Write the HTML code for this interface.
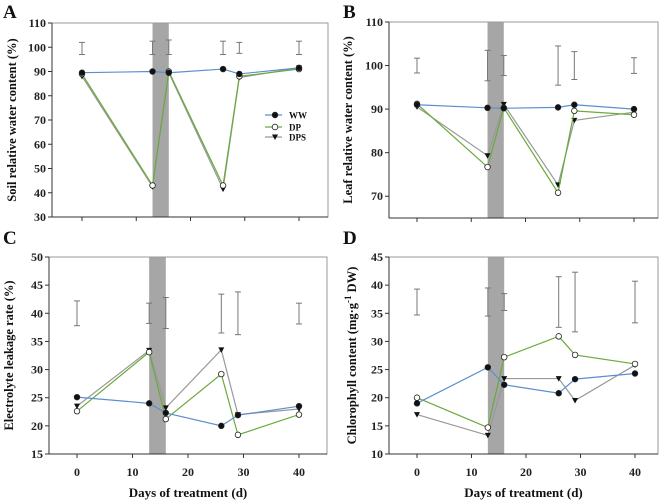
<!DOCTYPE html>
<html><head><meta charset="utf-8"><style>
body{margin:0;background:#fff}
svg{display:block;font-family:"Liberation Serif",serif;font-weight:bold}
</style></head><body>
<svg id="c" width="663" height="504"></svg>
<script>
const days=[0,13,16,26,29,40];
const aWW=[89.5,90,89.5,91,89,91.5], aDP=[89,43,90,43,88,91], aDPS=[88,42.5,89.5,41.5,87.5,91.5];
const aErrLo=[97,97,97,97,97.5,97], aErrHi=[102,102.5,103,102.5,102,102.5];
const bWW=[91,90.3,90.2,90.4,91,90], bDP=[91.2,76.7,90.3,70.8,89.6,88.7], bDPS=[90.5,79.3,91.1,72.6,87.4,89.3];
const bErrLo=[98.3,96.5,97.7,95.5,96.8,98.2], bErrHi=[101.7,103.5,102.3,104.5,103.2,101.8];
const cWW=[25.1,24,22.3,20,21.9,23.5], cDP=[22.6,33.1,21.2,29.2,18.4,22], cDPS=[23.5,33.4,23.2,33.5,22,23];
const cErrLo=[37.8,38.2,37.3,36.5,36.2,38.1], cErrHi=[42.2,41.8,42.8,43.4,43.8,41.8];
const dWW=[19,25.4,22.3,20.8,23.3,24.3], dDP=[20,14.7,27.2,30.9,27.6,26], dDPS=[17,13.3,23.4,23.4,19.5,25.8];
const dErrLo=[34.7,34.5,35.5,32.5,31.7,33.3], dErrHi=[39.3,39.5,38.5,41.5,42.3,40.7];
const aTicks=[30,40,50,60,70,80,90,100,110], bTicks=[70,80,90,100,110];
const cTicks=[15,20,25,30,35,40,45,50], dTicks=[10,15,20,25,30,35,40,45];
const xTicks=[0,10,20,30,40];
const NS="http://www.w3.org/2000/svg", svg=document.getElementById('c');
function mk(t,a,p){const e=document.createElementNS(NS,t);for(const k in a)e.setAttribute(k,a[k]);(p||svg).appendChild(e);return e;}
function panel(o){
  const g=mk('g',{});
  
  
  const X=d=>o.x0+(o.x40-o.x0)*d/40, Y=v=>o.b-(v-o.ymin)/(o.ymax-o.ymin)*(o.b-o.t);
  mk('rect',{x:X(13),y:o.t,width:X(16)-X(13),height:o.b-o.t,fill:'#a6a6a6'},g);
  mk('rect',{x:o.l,y:o.t,width:o.r-o.l,height:o.b-o.t,fill:'none',stroke:'#999','stroke-width':1},g);
  mk('line',{x1:o.l,y1:o.t,x2:o.l,y2:o.b,stroke:'#333'},g);
  mk('line',{x1:o.l,y1:o.b,x2:o.r,y2:o.b,stroke:'#333'},g);
  o.ticks.forEach(v=>{mk('line',{x1:o.l-4,y1:Y(v),x2:o.l,y2:Y(v),stroke:'#333'},g);
    const t=mk('text',{x:o.l-6,y:Y(v)+4,'text-anchor':'end','font-size':12,fill:'#222'},g);t.textContent=v;
    });
  xTicks.forEach(d=>{mk('line',{x1:X(d),y1:o.b,x2:X(d),y2:o.b+4,stroke:'#333'},g);
    if(o.xl){const t=mk('text',{x:X(d),y:o.b+22,'text-anchor':'middle','font-size':12,fill:'#222'},g);t.textContent=d;
    }});
  days.forEach((d,i)=>{const x=X(d),y1=Y(o.lo[i]),y2=Y(o.hi[i]);
    mk('line',{x1:x,y1:y1,x2:x,y2:y2,stroke:'#777'},g);
    mk('line',{x1:x-3,y1:y1,x2:x+3,y2:y1,stroke:'#777'},g);
    mk('line',{x1:x-3,y1:y2,x2:x+3,y2:y2,stroke:'#777'},g);});
  const ser=[[o.dps,'#999','tri'],[o.dp,'#6aaa3a','open'],[o.ww,'#5b8fd0','fill']];
  ser.forEach(([vals,col,m])=>{
    const pl=mk('polyline',{points:days.map((d,i)=>X(d)+','+Y(vals[i])).join(' '),fill:'none',stroke:col,'stroke-width':1.2},g);
    
    days.forEach((d,i)=>{const x=X(d),y=Y(vals[i]);
      if(m=='tri')mk('polygon',{points:`${x-3},${y-2.5} ${x+3},${y-2.5} ${x},${y+3}`,fill:'#111'},g);
      else mk('circle',{cx:x,cy:y,r:2.8,fill:m=='open'?'#fff':'#111',stroke:'#222','stroke-width':0.8},g);});
  });
  const lt=mk('text',{x:o.lx,y:o.ly,'font-size':19,fill:'#111'},g);lt.textContent=o.letter;
  const yt=mk('text',{x:0,y:0,'font-size':12.5,'text-anchor':'middle',fill:'#111',transform:`translate(${o.ytx},${(o.t+o.b)/2}) rotate(-90)`},g);
  yt.innerHTML=o.ytitle;
  if(o.xl){const xt=mk('text',{x:(o.l+o.r)/2,y:497,'text-anchor':'middle','font-size':13,fill:'#111'},g);xt.textContent='Days of treatment (d)';}
  return {X,Y};
}
panel({name:'panel-a',l:52,r:328,t:23,b:217,x0:82,x40:299,ymin:30,ymax:110,ticks:aTicks,ww:aWW,dp:aDP,dps:aDPS,lo:aErrLo,hi:aErrHi,letter:'A',lx:3,ly:18,ytx:16,ytitle:'Soil relative water content (%)'});
panel({name:'panel-b',l:389,r:658,t:22,b:218,x0:417,x40:634,ymin:65,ymax:110,ticks:bTicks,ww:bWW,dp:bDP,dps:bDPS,lo:bErrLo,hi:bErrHi,letter:'B',lx:343,ly:18,ytx:352,ytitle:'Leaf relative water content (%)'});
panel({name:'panel-c',l:49,r:327,t:257,b:454,x0:77,x40:299,ymin:15,ymax:50,ticks:cTicks,ww:cWW,dp:cDP,dps:cDPS,lo:cErrLo,hi:cErrHi,letter:'C',lx:3,ly:244,ytx:13,xl:true,ytitle:'Electrolyte leakage rate (%)'});
panel({name:'panel-d',l:389,r:658,t:257,b:454,x0:417,x40:635,ymin:10,ymax:45,ticks:dTicks,ww:dWW,dp:dDP,dps:dDPS,lo:dErrLo,hi:dErrHi,letter:'D',lx:343,ly:244,ytx:356,xl:true,ytitle:'Chlorophyll content (mg·g<tspan dy="-5" font-size="9">-1</tspan><tspan dy="5"> DW)</tspan>'});
const leg=mk('g',{});


[['WW','#5b8fd0','fill',115],['DP','#6aaa3a','open',127],['DPS','#999','tri',137]].forEach(([n,c,m,y])=>{
  mk('line',{x1:265,y1:y,x2:282,y2:y,stroke:c,'stroke-width':1.2},leg);
  if(m=='tri')mk('polygon',{points:`272,${y-2.5} 278,${y-2.5} 275,${y+3}`,fill:'#111'},leg);
  else mk('circle',{cx:275,cy:y,r:2.8,fill:m=='open'?'#fff':'#111',stroke:'#222','stroke-width':0.8},leg);
  const t=mk('text',{x:289,y:y+3.5,'font-size':9,fill:'#111'},leg);t.textContent=n;
});
</script>
</body></html>
